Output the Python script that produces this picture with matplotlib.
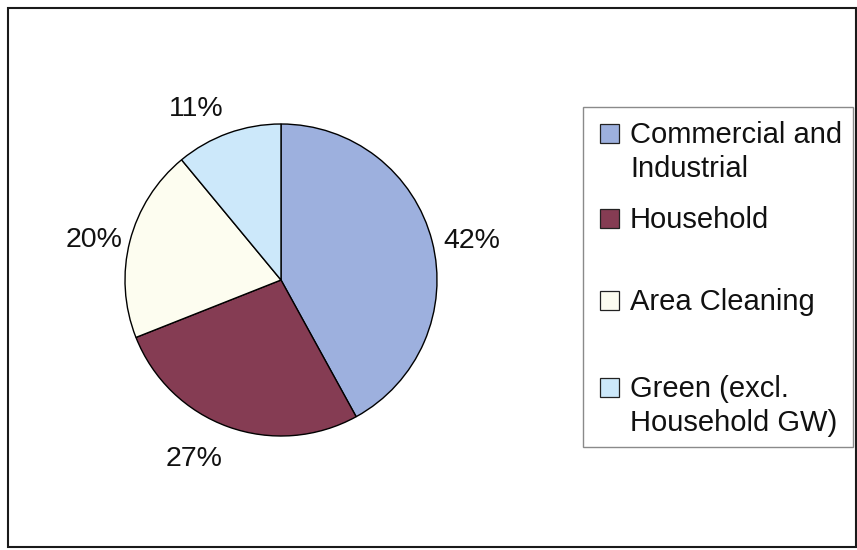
import matplotlib

matplotlib.use("Agg")
import matplotlib.pyplot as plt
from matplotlib.patches import Rectangle
from matplotlib.transforms import offset_copy

plt.rcParams["font.family"] = ["Liberation Sans", "DejaVu Sans"]

# waste stream shares (%)
categories = [
    "Commercial and\nIndustrial",
    "Household",
    "Area Cleaning",
    "Green (excl.\nHousehold GW)",
]
shares = [42, 27, 20, 11]
colors = ["#9db0de", "#853c53", "#fdfdf0", "#cce8fa"]

W, H = 857, 550
fig = plt.figure(figsize=(W / 100, H / 100), dpi=100)


def fx(px):
    return px / W


def fy(py):
    # pixel rows count from the top
    return 1 - py / H


# outer chart-area frame
fig.add_artist(Rectangle((fx(8), fy(547)), fx(848), 539 / H, transform=fig.transFigure,
                         fill=False, edgecolor="#1a1a1a", linewidth=1.5))

# pie: centre (281, 280) px, radius 156 px; pie() fixes limits at +/-1.25
half = 156 * 1.25
ax = fig.add_axes([fx(281 - half), fy(280 + half), 2 * half / W, 2 * half / H])
wedges, texts, autotexts = ax.pie(
    shares,
    colors=colors,
    startangle=90,
    counterclock=False,
    autopct="%1.0f%%",
    pctdistance=1.245,
    wedgeprops=dict(edgecolor="black", linewidth=1.0),
    textprops=dict(fontsize=20.5, color="#111111"),
)
ax.set_aspect("equal")

# nudge the percentage labels (pixels, right / down) to sit as in the spreadsheet layout
label_nudge = [(3, 9), (-21, -4), (1, 8), (-19, 12)]
for txt, (dx, dy) in zip(autotexts, label_nudge):
    txt.set_transform(offset_copy(ax.transData, fig=fig, x=dx, y=-dy, units="dots"))

# legend box drawn by hand to keep the uneven entry spacing
fig.add_artist(Rectangle((fx(583), fy(447)), fx(270), 340 / H, transform=fig.transFigure,
                         fill=True, facecolor="white", edgecolor="#8a8a8a", linewidth=1.0))
first_baselines = [143, 228, 310, 397]
line_step = 34
box = 19
for label, color, base in zip(categories, colors, first_baselines):
    fig.add_artist(Rectangle((fx(600), fy(base)), fx(box), box / H, transform=fig.transFigure,
                             facecolor=color, edgecolor="#222222", linewidth=0.9))
    for i, line in enumerate(label.split("\n")):
        fig.text(fx(630), fy(base + i * line_step), line, fontsize=21,
                 color="#111111", va="baseline", ha="left")

fig.savefig("out.png", dpi=100)
